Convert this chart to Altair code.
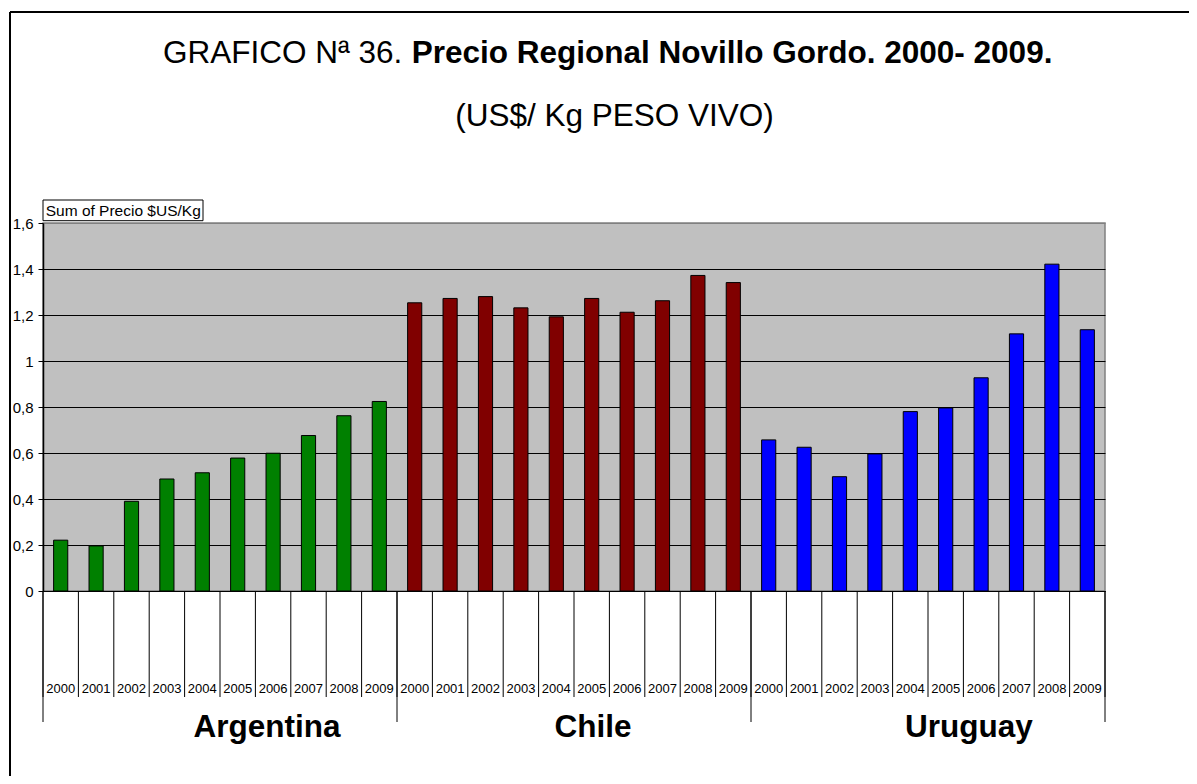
import altair as alt
import pandas as pd

# ---- data ----
countries = ["Argentina", "Chile", "Uruguay"]
years = ["2000", "2001", "2002", "2003", "2004", "2005", "2006", "2007", "2008", "2009"]
argentina = [0.221, 0.196, 0.390, 0.487, 0.514, 0.578, 0.599, 0.676, 0.762, 0.824]
chile = [1.253, 1.272, 1.280, 1.231, 1.192, 1.272, 1.212, 1.262, 1.372, 1.341]
uruguay = [0.657, 0.625, 0.497, 0.596, 0.780, 0.796, 0.927, 1.118, 1.421, 1.136]
bar_colors = ["#008000", "#800000", "#0000FF"]
y_ticks = [0, 0.2, 0.4, 0.6, 0.8, 1, 1.2, 1.4, 1.6]
title_regular = "GRAFICO Nª 36."
title_bold = "Precio Regional Novillo Gordo. 2000- 2009."
subtitle = "(US$/ Kg PESO VIVO)"
field_label = "Sum of Precio $US/Kg"

# ---- layout / style ----
W, H = 1062, 368
FONT = "Liberation Sans"
country_label_dx = [47, 19, 41]

series = [argentina, chile, uruguay]
rows = []
for ci, (c, vals) in enumerate(zip(countries, series)):
    for yi, (yr, v) in enumerate(zip(years, vals)):
        rows.append({"country": c, "year": yr, "value": v, "idx": ci * len(years) + yi})
df = pd.DataFrame(rows)
n = len(df)

xscale = alt.Scale(domain=[0, n], nice=False, zero=False, padding=0)
yscale = alt.Scale(domain=[0, 1.6], nice=False, padding=0)
xaxis = alt.Axis(labels=False, ticks=False, grid=False, title=None,
                 domainColor="#000000", domainWidth=1)

bars = alt.Chart(df).transform_calculate(
    x0="datum.idx + 0.3", x1="datum.idx + 0.7"
).mark_bar(stroke="#000000", strokeWidth=1).encode(
    x=alt.X("x0:Q", scale=xscale, axis=xaxis),
    x2="x1:Q",
    y=alt.Y("value:Q", scale=yscale,
            axis=alt.Axis(values=y_ticks, title=None, grid=True,
                          gridColor=alt.condition("datum.value >= 1.6", alt.value("#808080"), alt.value("#000000")),
                          gridWidth=1, tickColor="#000000", tickSize=5,
                          labelFont=FONT, labelFontSize=15, labelColor="#000000",
                          labelPadding=5, domainColor="#000000", domainWidth=1.5,
                          labelExpr="replace(format(datum.value, '~g'), '.', ',')")),
    y2=alt.datum(0),
    color=alt.Color("country:N", scale=alt.Scale(domain=countries, range=bar_colors), legend=None),
)

bounds = pd.DataFrame({"b": list(range(n + 1))})
group_bounds = pd.DataFrame({"b": [i * len(years) for i in range(len(countries) + 1)]})

sep = alt.Chart(bounds).mark_rule(color="#000000", strokeWidth=1).encode(
    x=alt.X("b:Q", scale=xscale, axis=xaxis),
    y=alt.value(H), y2=alt.value(474),
)
gsep = alt.Chart(group_bounds).mark_rule(color="#000000", strokeWidth=1).encode(
    x=alt.X("b:Q", scale=xscale, axis=xaxis),
    y=alt.value(H), y2=alt.value(499),
)

year_labels = alt.Chart(df).transform_calculate(
    xc="datum.idx + 0.5"
).mark_text(font=FONT, fontSize=13, baseline="middle", color="#000000").encode(
    x=alt.X("xc:Q", scale=xscale, axis=xaxis),
    y=alt.value(466),
    text="year:N",
)

country_layers = []
for ci, c in enumerate(countries):
    cdf = pd.DataFrame({"country": [c], "center": [ci * len(years) + len(years) / 2]})
    country_layers.append(
        alt.Chart(cdf).mark_text(font=FONT, fontSize=31.5, fontWeight="bold",
                                 baseline="alphabetic", color="#000000",
                                 dx=country_label_dx[ci]).encode(
            x=alt.X("center:Q", scale=xscale, axis=xaxis),
            y=alt.value(514),
            text="country:N",
        )
    )

tdf = pd.DataFrame({"reg": [title_regular], "bold": [title_bold], "sub": [subtitle], "lab": [field_label]})

t_reg = alt.Chart(tdf).mark_text(font=FONT, fontSize=31.5, align="left", baseline="alphabetic",
                                 color="#000000").encode(
    x=alt.value(120), y=alt.value(-159.7), text="reg:N")
t_bold = alt.Chart(tdf).mark_text(font=FONT, fontSize=31.5, fontWeight="bold", align="left",
                                  baseline="alphabetic", color="#000000").encode(
    x=alt.value(368.7), y=alt.value(-159.7), text="bold:N")
t_sub = alt.Chart(tdf).mark_text(font=FONT, fontSize=31.5, align="center", baseline="alphabetic",
                                 color="#000000").encode(
    x=alt.value(571.5), y=alt.value(-97.3), text="sub:N")

box = alt.Chart(tdf).mark_rect(fill="#FFFFFF", stroke="#000000", strokeWidth=1).encode(
    x=alt.value(0), x2=alt.value(160), y=alt.value(-23), y2=alt.value(-2.3))
box_text = alt.Chart(tdf).mark_text(font=FONT, fontSize=15.5, align="left", baseline="alphabetic",
                                    color="#000000").encode(
    x=alt.value(2.7), y=alt.value(-7), text="lab:N")

border_left = alt.Chart(tdf).mark_rule(color="#000000", strokeWidth=2).encode(
    x=alt.value(-33), y=alt.value(-211), y2=alt.value(553))
border_top = alt.Chart(tdf).mark_rule(color="#000000", strokeWidth=2).encode(
    x=alt.value(-33), x2=alt.value(1146), y=alt.value(-211))

chart = alt.layer(
    bars, sep, gsep, year_labels, *country_layers, t_reg, t_bold, t_sub, box, box_text,
    border_left, border_top,
).properties(
    width=W, height=H,
    autosize=alt.AutoSizeParams(type="none"),
    padding={"left": 35, "top": 215, "right": 84, "bottom": 185},
    background="#FFFFFF",
).configure_view(fill="#C0C0C0", stroke="#808080", strokeWidth=1.5)

chart.save("out.html", embed_options={"renderer": "svg", "actions": False})
